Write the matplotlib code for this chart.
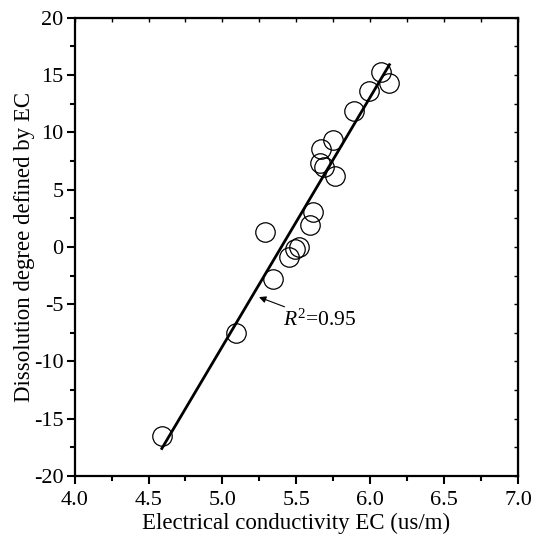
import numpy as np
import matplotlib
matplotlib.use("Agg")
import matplotlib.pyplot as plt
from matplotlib.ticker import MultipleLocator

plt.rcParams['font.family'] = ['Liberation Serif', 'DejaVu Serif']
plt.rcParams['mathtext.fontset'] = 'custom'
plt.rcParams['mathtext.rm'] = 'Liberation Serif'
plt.rcParams['mathtext.it'] = 'Liberation Serif:italic'
plt.rcParams['axes.unicode_minus'] = False

# Datos
ec = [4.59, 5.09, 5.29, 5.34, 5.45, 5.49, 5.52, 5.59, 5.61,
      5.66, 5.69, 5.67, 5.76, 5.75, 5.89, 5.99, 6.07, 6.13]
grado = [-16.5, -7.5, 1.3, -2.8, -0.9, -0.2, 0.0, 1.9, 3.0,
         7.3, 7.0, 8.5, 6.2, 9.3, 11.9, 13.6, 15.3, 14.3]

# Recta de ajuste
ajuste_x = [4.59, 6.13]
ajuste_y = [-17.6, 15.9]

fig = plt.figure(figsize=(5.37, 5.45), dpi=100)
ax = fig.add_axes([0.139, 0.1266, 0.8256, 0.8409])

ax.plot(ec, grado, 'o', ms=14, mfc='none', mec='black', mew=0.9)
ax.plot(ajuste_x, ajuste_y, '-', color='black', lw=2.0)

ax.annotate('$R^2$=0.95', xy=(5.23, -4.3), xytext=(5.41, -6.4),
            fontsize=15.5, va='center', ha='left',
            arrowprops=dict(arrowstyle='-|>', color='black', lw=0.8,
                            mutation_scale=10, shrinkA=0, shrinkB=2))

ax.set_xlim(4.0, 7.0)
ax.set_ylim(-20, 20)
ax.xaxis.set_major_locator(MultipleLocator(0.5))
ax.xaxis.set_minor_locator(MultipleLocator(0.25))
ax.yaxis.set_major_locator(MultipleLocator(5))
ax.yaxis.set_minor_locator(MultipleLocator(2.5))
ax.xaxis.set_major_formatter(plt.FormatStrFormatter('%.1f'))

ax.tick_params(which='major', direction='out', length=6, width=1.5, labelsize=16, pad=2)
ax.tick_params(axis='x', which='major', pad=5)
ax.tick_params(which='minor', direction='out', length=3.5, width=1.5)
for s in ax.spines.values():
  s.set_linewidth(1.6)

# ticks hacia dentro arriba y a la derecha
top = ax.secondary_xaxis('top')
top.xaxis.set_major_locator(MultipleLocator(0.25))
top.tick_params(direction='in', length=3, width=1.0, labeltop=False)
right = ax.secondary_yaxis('right')
right.yaxis.set_major_locator(MultipleLocator(2.5))
right.tick_params(direction='in', length=3, width=1.0, labelright=False)

ax.set_xlabel('Electrical conductivity EC (us/m)', fontsize=16.5, labelpad=2)
ax.set_ylabel('Dissolution degree defined by EC', fontsize=16.5, labelpad=-1)

fig.savefig('out.png', dpi=100)
